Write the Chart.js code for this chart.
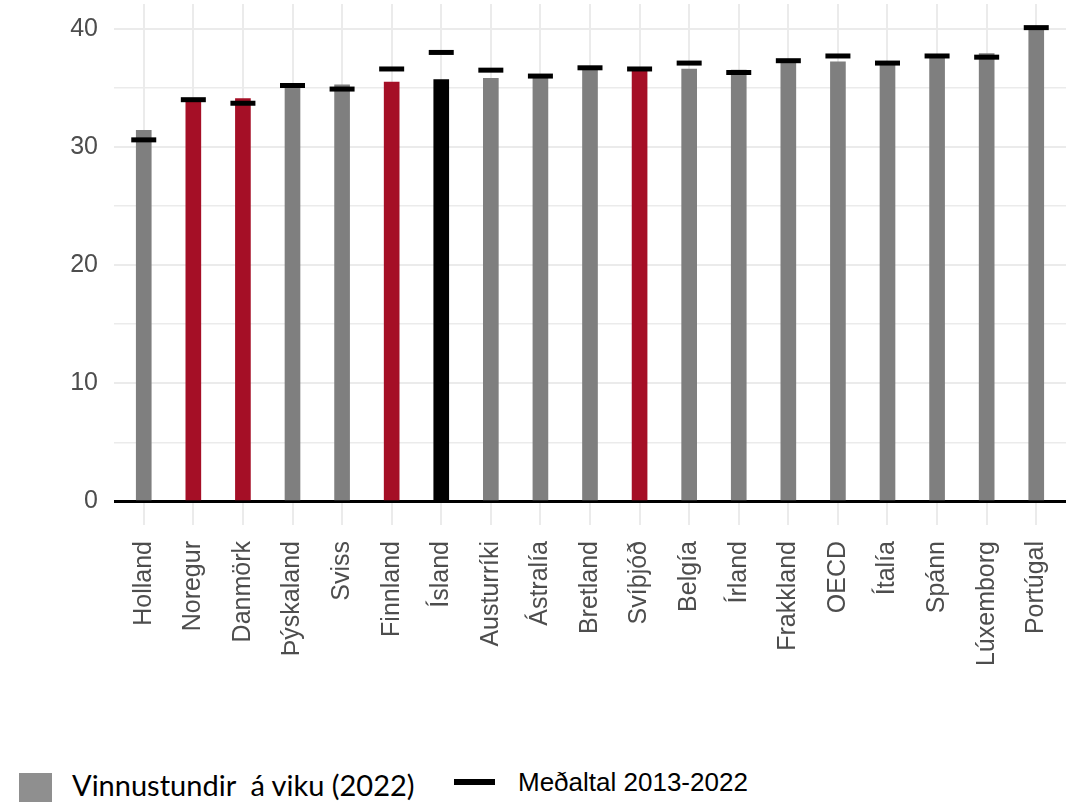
<!DOCTYPE html>
<html>
<head>
<meta charset="utf-8">
<script src="https://cdn.jsdelivr.net/npm/chart.js@4"></script>
<style>
  body { margin: 0; background: #fff; width: 1079px; height: 802px; position: relative; overflow: hidden; }
  #chart { position: absolute; left: 0; top: 0; }
  .legend-box { position: absolute; left: 19px; top: 773px; width: 33px; height: 30px; background: #8f8f8f; }
  .legend-text1 { position: absolute; left: 72px; top: 770px; font: 29px Lato, "Noto Sans", sans-serif; line-height: 1; white-space: pre; color: #000; }
  .legend-line { position: absolute; left: 454px; top: 779px; width: 41px; height: 6px; background: #000; }
  .legend-text2 { position: absolute; left: 518px; top: 769px; font: 26px "Liberation Sans", Arial, sans-serif; line-height: 1; white-space: pre; color: #000; }
</style>
</head>
<body>
<canvas id="chart" width="1079" height="700"></canvas>
<div class="legend-box"></div>
<div class="legend-text1">Vinnustundir  á viku (2022)</div>
<div class="legend-line"></div>
<div class="legend-text2">Meðaltal 2013-2022</div>

<script>
// countries in plotting order
const countries = ['Holland', 'Noregur', 'Danmörk', 'Þýskaland', 'Sviss', 'Finnland', 'Ísland',
    'Austurríki', 'Ástralía', 'Bretland', 'Svíþjóð', 'Belgía', 'Írland', 'Frakkland', 'OECD',
    'Ítalía', 'Spánn', 'Lúxemborg', 'Portúgal'];

// weekly working hours 2022 (bars)
const hours2022 = [31.4, 33.9, 34.1, 35.1, 35.25, 35.5, 35.7, 35.8, 35.9, 36.7, 36.5,
    36.6, 36.5, 37.2, 37.2, 36.95, 37.6, 37.9, 40.0];

// average 2013-2022 (black markers)
const average = [30.6, 34.0, 33.7, 35.2, 34.9, 36.6, 38.0, 36.5, 36.0, 36.7, 36.6,
    37.1, 36.3, 37.3, 37.7, 37.1, 37.7, 37.6, 40.1];

// group of each country
const groups = ['other', 'nordic', 'nordic', 'other', 'other', 'nordic', 'iceland',
    'other', 'other', 'other', 'nordic', 'other', 'other', 'other', 'other',
    'other', 'other', 'other', 'other'];

const yTicks = [0, 5, 10, 15, 20, 25, 30, 35, 40];

const groupColors = { other: '#7f7f7f', nordic: '#a50f26', iceland: '#000000' };
const tickFont = { family: '"Liberation Sans", Arial, sans-serif', size: 25 };

new Chart(document.getElementById('chart'), {
    data: {
        datasets: [
            {
                type: 'line',
                label: 'Meðaltal 2013-2022',
                data: average.map((v, i) => ({ x: i, y: v })),
                showLine: false,
                pointStyle: 'line',
                pointRadius: 12.5,
                pointHoverRadius: 12.5,
                pointBorderWidth: 5,
                pointHoverBorderWidth: 5,
                borderColor: '#000',
                clip: false,
                order: 0
            },
            {
                type: 'bar',
                label: 'Vinnustundir á viku (2022)',
                data: hours2022.map((v, i) => ({ x: i, y: v })),
                backgroundColor: groups.map(g => groupColors[g]),
                barThickness: 15,
                grouped: false,
                order: 1
            }
        ]
    },
    options: {
        responsive: false,
        animation: false,
        events: [],
        layout: { autoPadding: false, padding: { top: 4, right: 13, left: 0, bottom: 0 } },
        plugins: { legend: { display: false }, tooltip: { enabled: false } },
        scales: {
            x: {
                type: 'linear',
                min: -0.6,
                max: 18.6,
                offset: false,
                afterBuildTicks: (scale) => {
                    scale.ticks = countries.map((c, i) => ({ value: i }));
                },
                afterFit: (scale) => {
                    scale.height = 175;
                    scale.paddingLeft = 0;
                    scale.paddingRight = 0;
                },
                grid: { color: '#ebebeb', lineWidth: 2, drawTicks: false, offset: false },
                border: { display: false },
                ticks: {
                    autoSkip: false,
                    minRotation: 90,
                    maxRotation: 90,
                    padding: 16,
                    color: '#4d4d4d',
                    font: tickFont,
                    callback: (value) => countries[value]
                }
            },
            y: {
                min: -2.0,
                max: 42.1,
                afterBuildTicks: (scale) => {
                    scale.ticks = yTicks.map(v => ({ value: v }));
                },
                afterFit: (scale) => {
                    scale.width = 114;
                    scale.paddingTop = 0;
                    scale.paddingBottom = 0;
                },
                grid: {
                    drawTicks: false,
                    color: (ctx) => ctx.tick.value === 0 ? '#000' : '#ebebeb',
                    lineWidth: (ctx) => ctx.tick.value === 0 ? 3 : (ctx.tick.value % 10 === 0 ? 2 : 1.5)
                },
                border: { display: false },
                ticks: {
                    padding: 16,
                    color: '#4d4d4d',
                    font: tickFont,
                    callback: (value) => value % 10 === 0 ? value : ''
                }
            }
        }
    }
});
</script>
</body>
</html>
